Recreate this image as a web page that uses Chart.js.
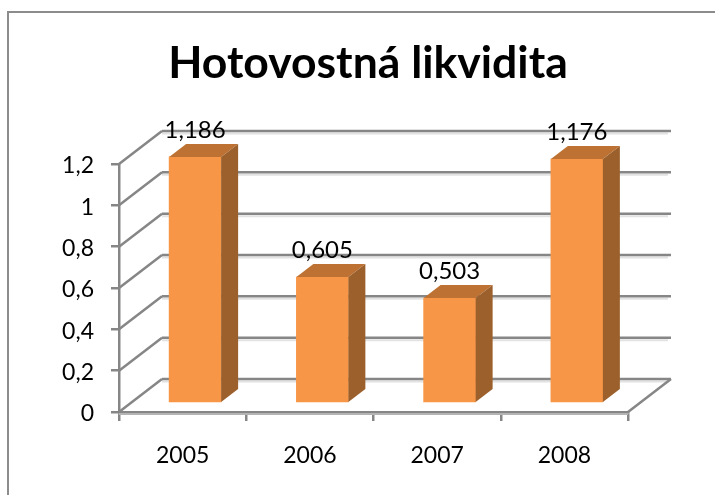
<!DOCTYPE html>
<html>
<head>
<meta charset="utf-8">
<title>Hotovostná likvidita</title>
<script src="https://cdn.jsdelivr.net/npm/chart.js"></script>
<style>
  html, body { margin: 0; padding: 0; background: #fff; }
  #wrap { position: relative; width: 715px; height: 495px; overflow: hidden; }
  #frame { position: absolute; left: 7px; top: 11px; width: 800px; height: 600px; border: 2px solid #8c8c8c; }
  canvas { position: absolute; left: 0; top: 0; }
</style>
</head>
<body>
<div id="wrap">
  <div id="frame"></div>
  <canvas id="chart" width="715" height="495"></canvas>
</div>
<script>
const TITLE = 'Hotovostná likvidita'
const YEARS = ['2005', '2006', '2007', '2008']
const VALUES = [1.186, 0.605, 0.503, 1.176]
const VALUE_LABELS = ['1,186', '0,605', '0,503', '1,176']

const FONT = 'Lato, "Open Sans", sans-serif'
const GRID = '#868686'
const SHADOW = '#e2e2e2'
const LINE_W = 2.5
const DEPTH_X = 43, DEPTH_Y = 33       // floor depth
const BAR_DX = 17, BAR_DY = 13         // bar depth
const STEP_PX = 248 / 1.2              // px per unit on the y axis

function line(ctx, x1, y1, x2, y2, color, width) {
  ctx.strokeStyle = color
  ctx.lineWidth = width
  ctx.beginPath()
  ctx.moveTo(x1, y1)
  ctx.lineTo(x2, y2)
  ctx.stroke()
}

// back wall, floor and the diagonal lines
const wallPlugin = {
  id: 'wall',
  beforeDatasetsDraw(chart) {
    const ctx = chart.ctx
    const y = chart.scales.y
    const left = chart.chartArea.left, right = chart.chartArea.right
    ctx.save()
    y.ticks.forEach(t => {
      const py = y.getPixelForValue(t.value)
      line(ctx, left + DEPTH_X, py - DEPTH_Y + 2.5, right + DEPTH_X - 3, py - DEPTH_Y + 2.5, SHADOW, 2)
      line(ctx, left + DEPTH_X, py - DEPTH_Y, right + DEPTH_X, py - DEPTH_Y, GRID, LINE_W)
      line(ctx, left, py, left + DEPTH_X, py - DEPTH_Y, GRID, LINE_W)
    })
    const base = y.getPixelForValue(0)
    line(ctx, right, base, right + DEPTH_X, base - DEPTH_Y, GRID, LINE_W)
    line(ctx, left, base + 2, right, base + 2, '#b4b4b4', 2)
    ctx.restore()
  }
}

// top and side faces of the bars, then the value labels
const facesPlugin = {
  id: 'faces',
  afterDatasetsDraw(chart) {
    const ctx = chart.ctx
    const bars = chart.getDatasetMeta(0).data
    ctx.save()
    bars.forEach((bar, i) => {
      const half = bar.width / 2
      const l = bar.x - half, r = bar.x + half, top = bar.y, bottom = bar.base
      ctx.fillStyle = '#BD7233'
      ctx.beginPath()
      ctx.moveTo(l, top)
      ctx.lineTo(l + BAR_DX, top - BAR_DY)
      ctx.lineTo(r + BAR_DX, top - BAR_DY)
      ctx.lineTo(r, top)
      ctx.closePath()
      ctx.fill()
      ctx.fillStyle = '#9C602C'
      ctx.beginPath()
      ctx.moveTo(r, top)
      ctx.lineTo(r + BAR_DX, top - BAR_DY)
      ctx.lineTo(r + BAR_DX, bottom - BAR_DY)
      ctx.lineTo(r, bottom)
      ctx.closePath()
      ctx.fill()
      ctx.fillStyle = '#000'
      ctx.font = '24px ' + FONT
      ctx.textAlign = 'center'
      ctx.textBaseline = 'alphabetic'
      ctx.fillText(VALUE_LABELS[i], bar.x, top - 19)
    })
    ctx.restore()
  }
}

new Chart(document.getElementById('chart'), {
  type: 'bar',
  data: {
    labels: YEARS,
    datasets: [{
      data: VALUES.map((v, i) => ({ x: i, y: v })),
      xAxisID: 'xBar',
      yAxisID: 'yBar',
      backgroundColor: '#F79646',
      borderWidth: 0,
      barThickness: 52,
      clip: false
    }]
  },
  options: {
    responsive: false,
    animation: false,
    layout: { padding: { left: 21, right: 0, top: 0, bottom: 0 } },
    plugins: {
      legend: { display: false },
      tooltip: { enabled: false },
      title: {
        display: true,
        text: TITLE,
        color: '#000',
        font: { family: FONT, size: 44.5, weight: 'bold', lineHeight: 1 },
        padding: { top: 41.5, bottom: 78 }
      }
    },
    scales: {
      x: {
        type: 'category',
        labels: YEARS,
        offset: true,
        afterFit(s) { s.height = 83 },
        border: { color: GRID, width: LINE_W },
        grid: { offset: true, drawOnChartArea: false, color: GRID, lineWidth: LINE_W, tickLength: 9 },
        ticks: { color: '#000', font: { family: FONT, size: 23 }, padding: 21, maxRotation: 0 }
      },
      y: {
        min: 0,
        max: 1.2,
        afterFit(s) { s.width = 98 },
        border: { color: GRID, width: LINE_W },
        grid: { drawOnChartArea: false, color: GRID, lineWidth: LINE_W, tickLength: 8 },
        ticks: {
          stepSize: 0.2,
          color: '#000',
          padding: 17,
          labelOffset: 2,
          font: { family: FONT, size: 23 },
          callback: v => String(Math.round(v * 10) / 10).replace('.', ',')
        }
      },
      // keeps the plot clear of the right edge while the title stays centred on the page
      yRight: {
        position: 'right',
        min: 0,
        max: 1.2,
        afterFit(s) { s.width = 87 },
        border: { display: false },
        grid: { display: false },
        ticks: { display: false }
      },
      // bars stand in the middle of the floor, so they sit on axes shifted by the depth
      xBar: { type: 'linear', display: false, offset: false, min: -0.5 - 12.5 / 127.25, max: 3.5 - 12.5 / 127.25 },
      yBar: { type: 'linear', display: false, min: -10 / STEP_PX, max: 1.2 - 10 / STEP_PX }
    }
  },
  plugins: [wallPlugin, facesPlugin]
})
</script>
</body>
</html>
